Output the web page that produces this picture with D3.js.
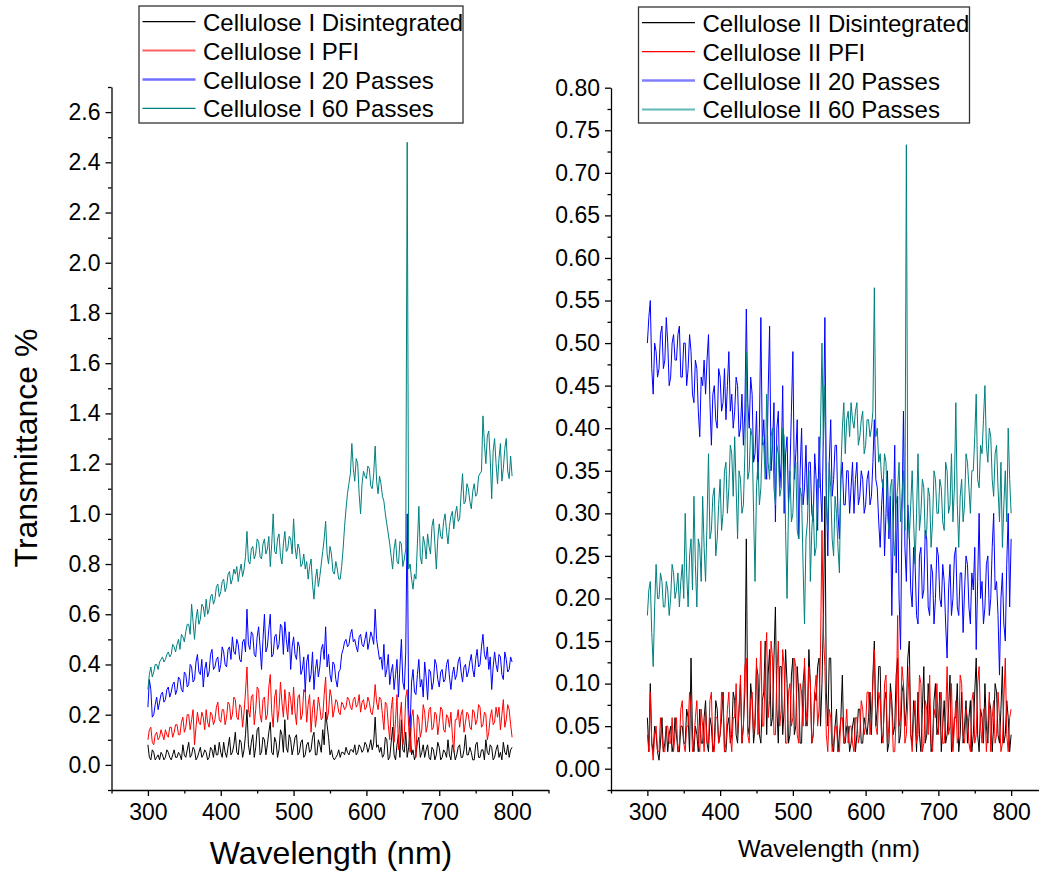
<!DOCTYPE html>
<html><head><meta charset="utf-8">
<script src="https://cdn.jsdelivr.net/npm/d3@7/dist/d3.min.js"></script>
<style>
html,body{margin:0;padding:0;background:#fff;}
svg{display:block;font-family:"Liberation Sans",Arial,sans-serif;}
</style></head><body>
<svg id="chart" width="1039" height="878"></svg>
<script>
// wavelength grid (nm), 2 nm sampling: 300..800
const wavelengths = d3.range(300, 801, 2);

// ---- Cellulose I (left panel) ----
const c1Disintegrated = [
0.08,0.03,0.02,0.06,0.05,0.02,0.03,0.04,0.02,0.05,0.04,0.02,0.03,0.06,0.05,0.03,0.02,0.04,0.06,0.03,
0.03,0.05,0.04,0.02,0.08,0.04,0.03,0.06,0.09,0.03,0.04,0.07,0.06,0.02,0.03,0.05,0.07,0.03,0.04,0.06,
0.05,0.02,0.03,0.07,0.06,0.03,0.08,0.04,0.04,0.09,0.05,0.03,0.09,0.05,0.03,0.07,0.11,0.04,0.05,0.08,
0.13,0.05,0.04,0.10,0.09,0.03,0.06,0.12,0.22,0.08,0.04,0.09,0.12,0.03,0.07,0.14,0.15,0.04,0.05,0.11,
0.10,0.04,0.08,0.13,0.17,0.05,0.04,0.11,0.09,0.03,0.06,0.14,0.12,0.05,0.18,0.07,0.05,0.12,0.10,0.04,
0.07,0.11,0.12,0.04,0.05,0.09,0.10,0.03,0.04,0.08,0.09,0.05,0.06,0.11,0.13,0.04,0.04,0.10,0.08,0.05,
0.14,0.08,0.21,0.16,0.11,0.04,0.06,0.03,0.02,0.03,0.04,0.06,0.03,0.05,0.05,0.04,0.07,0.05,0.04,0.06,
0.06,0.05,0.08,0.04,0.05,0.08,0.07,0.05,0.06,0.09,0.08,0.05,0.07,0.10,0.06,0.09,0.19,0.07,0.08,0.05,
0.07,0.03,0.04,0.11,0.10,0.02,0.03,0.09,0.15,0.04,0.02,0.08,0.12,0.03,0.18,0.06,0.05,0.13,0.03,0.07,
0.15,0.04,0.06,0.02,0.04,0.09,0.11,0.03,0.05,0.08,0.03,0.06,0.08,0.03,0.02,0.07,0.06,0.02,0.04,0.09,
0.07,0.02,0.03,0.06,0.05,0.03,0.10,0.04,0.02,0.08,0.06,0.02,0.04,0.07,0.08,0.03,0.03,0.06,0.12,0.04,
0.04,0.07,0.05,0.02,0.02,0.08,0.09,0.03,0.03,0.06,0.06,0.02,0.10,0.05,0.04,0.08,0.07,0.02,0.03,0.06,
0.08,0.03,0.05,0.02,0.09,0.05,0.04,0.08,0.03,0.06,0.07];
const c1PFI = [
0.10,0.14,0.15,0.09,0.08,0.12,0.13,0.10,0.11,0.14,0.12,0.10,0.14,0.12,0.11,0.15,0.15,0.11,0.13,0.16,
0.16,0.12,0.12,0.17,0.19,0.13,0.15,0.20,0.20,0.14,0.18,0.22,0.08,0.15,0.21,0.17,0.16,0.21,0.19,0.14,
0.22,0.17,0.15,0.21,0.20,0.16,0.18,0.23,0.25,0.18,0.17,0.22,0.22,0.16,0.19,0.25,0.24,0.18,0.20,0.27,
0.26,0.19,0.18,0.24,0.23,0.15,0.21,0.29,0.39,0.22,0.19,0.27,0.28,0.16,0.22,0.31,0.30,0.20,0.17,0.26,
0.27,0.18,0.20,0.31,0.36,0.21,0.15,0.27,0.30,0.17,0.22,0.33,0.25,0.19,0.30,0.23,0.18,0.29,0.26,0.20,
0.31,0.21,0.16,0.27,0.28,0.18,0.20,0.30,0.29,0.17,0.24,0.28,0.13,0.22,0.26,0.15,0.20,0.27,0.23,0.18,
0.19,0.28,0.35,0.18,0.21,0.30,0.27,0.19,0.22,0.26,0.25,0.21,0.20,0.25,0.24,0.22,0.23,0.27,0.26,0.23,
0.22,0.26,0.27,0.23,0.24,0.28,0.21,0.25,0.26,0.22,0.23,0.27,0.25,0.21,0.20,0.24,0.32,0.25,0.22,0.27,
0.26,0.20,0.14,0.25,0.24,0.16,0.10,0.22,0.27,0.09,0.18,0.28,0.06,0.19,0.25,0.08,0.12,0.27,0.30,0.15,
0.05,0.19,0.22,0.12,0.03,0.20,0.18,0.11,0.14,0.24,0.21,0.13,0.16,0.22,0.23,0.14,0.15,0.21,0.20,0.12,
0.17,0.23,0.22,0.14,0.13,0.20,0.19,0.15,0.21,0.12,0.05,0.18,0.18,0.22,0.15,0.20,0.22,0.13,0.17,0.21,
0.20,0.15,0.14,0.22,0.21,0.16,0.18,0.24,0.23,0.15,0.16,0.21,0.20,0.10,0.13,0.19,0.22,0.16,0.17,0.23,
0.19,0.23,0.14,0.20,0.26,0.15,0.18,0.24,0.22,0.16,0.11];
const c1Pass20 = [
0.23,0.34,0.30,0.19,0.20,0.24,0.27,0.22,0.25,0.28,0.29,0.25,0.26,0.30,0.31,0.27,0.29,0.32,0.33,0.28,
0.30,0.35,0.34,0.30,0.29,0.37,0.36,0.31,0.32,0.40,0.39,0.33,0.34,0.41,0.44,0.37,0.36,0.42,0.31,0.38,
0.41,0.35,0.37,0.44,0.46,0.38,0.39,0.42,0.43,0.37,0.40,0.47,0.45,0.40,0.39,0.46,0.47,0.42,0.51,0.45,
0.44,0.50,0.48,0.42,0.41,0.49,0.50,0.45,0.62,0.48,0.46,0.53,0.52,0.44,0.43,0.51,0.55,0.47,0.38,0.50,
0.60,0.45,0.47,0.54,0.60,0.43,0.44,0.51,0.52,0.46,0.48,0.56,0.55,0.44,0.57,0.50,0.45,0.53,0.38,0.47,
0.51,0.44,0.42,0.49,0.47,0.36,0.38,0.43,0.29,0.41,0.44,0.33,0.36,0.45,0.30,0.38,0.42,0.35,0.39,0.46,
0.48,0.42,0.55,0.39,0.44,0.36,0.33,0.41,0.40,0.34,0.31,0.37,0.38,0.44,0.46,0.49,0.50,0.47,0.48,0.52,
0.54,0.49,0.50,0.47,0.45,0.51,0.52,0.48,0.47,0.50,0.53,0.46,0.49,0.53,0.51,0.48,0.62,0.50,0.46,0.42,
0.43,0.38,0.48,0.35,0.38,0.44,0.32,0.37,0.40,0.30,0.36,0.42,0.27,0.39,0.50,0.33,0.30,0.45,1.00,0.22,
0.15,0.33,0.38,0.29,0.28,0.36,0.42,0.31,0.34,0.27,0.41,0.35,0.26,0.38,0.37,0.30,0.33,0.42,0.40,0.34,
0.31,0.37,0.38,0.33,0.34,0.40,0.42,0.35,0.30,0.36,0.39,0.34,0.36,0.41,0.43,0.37,0.33,0.39,0.40,0.35,
0.37,0.41,0.44,0.38,0.35,0.42,0.46,0.39,0.40,0.47,0.52,0.44,0.42,0.47,0.38,0.43,0.30,0.39,0.45,0.40,
0.37,0.44,0.43,0.36,0.34,0.45,0.42,0.37,0.38,0.43,0.41];
const c1Pass60 = [
0.30,0.36,0.39,0.35,0.37,0.40,0.40,0.38,0.41,0.42,0.43,0.41,0.42,0.44,0.45,0.43,0.44,0.48,0.47,0.45,
0.48,0.50,0.46,0.52,0.51,0.49,0.53,0.56,0.56,0.52,0.64,0.57,0.50,0.58,0.62,0.56,0.58,0.64,0.63,0.59,
0.66,0.60,0.62,0.67,0.68,0.64,0.66,0.71,0.72,0.67,0.69,0.73,0.74,0.69,0.71,0.76,0.77,0.72,0.74,0.78,
0.76,0.79,0.73,0.77,0.80,0.75,0.78,0.83,0.93,0.81,0.80,0.86,0.87,0.82,0.84,0.90,0.89,0.83,0.82,0.88,
0.90,0.84,0.86,0.91,0.79,0.88,1.00,0.85,0.84,0.90,0.92,0.83,0.80,0.88,0.93,0.85,0.86,0.91,0.90,0.84,
0.98,0.87,0.82,0.88,0.86,0.79,0.80,0.84,0.78,0.81,0.74,0.79,0.82,0.72,0.66,0.74,0.78,0.71,0.75,0.80,
0.85,0.90,0.97,0.84,0.80,0.87,0.84,0.77,0.76,0.81,0.78,0.74,0.74,0.79,0.86,0.95,1.02,1.08,1.12,1.16,
1.28,1.18,1.13,1.22,1.20,1.08,1.00,1.12,1.17,1.15,1.14,1.19,1.18,1.11,1.10,1.16,1.27,1.13,1.08,1.15,
1.12,1.07,1.05,1.00,0.96,0.92,0.88,0.83,0.78,0.86,0.90,0.81,0.80,0.89,0.88,0.79,0.82,0.86,2.48,0.78,
0.80,0.74,0.70,0.76,0.74,0.88,1.03,0.83,0.80,0.91,0.88,0.82,0.92,0.87,0.84,0.95,0.98,0.88,0.78,0.90,
0.96,0.91,0.90,0.97,1.00,0.93,0.88,0.95,0.99,1.01,0.94,1.00,1.03,0.97,0.98,1.08,1.16,1.04,1.05,1.12,
1.10,1.05,1.02,1.09,1.12,1.07,1.08,1.15,1.16,1.17,1.39,1.28,1.20,1.31,1.33,1.22,1.06,1.25,1.30,1.20,
1.12,1.22,1.28,1.13,1.18,1.26,1.30,1.17,1.14,1.23,1.15];

// ---- Cellulose II (right panel) ----
const c2Disintegrated = [
0.06,0.02,0.10,0.03,0.02,0.05,0.04,0.02,0.01,0.03,0.06,0.02,0.03,0.05,0.02,0.04,0.05,0.02,0.03,0.06,
0.04,0.02,0.02,0.05,0.05,0.03,0.03,0.07,0.06,0.02,0.13,0.04,0.02,0.05,0.04,0.02,0.07,0.03,0.03,0.06,
0.08,0.03,0.02,0.06,0.05,0.02,0.03,0.08,0.07,0.03,0.04,0.06,0.09,0.02,0.02,0.05,0.06,0.03,0.04,0.09,
0.08,0.04,0.03,0.07,0.10,0.03,0.05,0.09,0.27,0.05,0.04,0.10,0.08,0.03,0.05,0.12,0.11,0.04,0.03,0.08,
0.09,0.15,0.04,0.11,0.14,0.05,0.06,0.13,0.19,0.07,0.03,0.12,0.12,0.04,0.07,0.14,0.10,0.03,0.04,0.11,
0.13,0.04,0.05,0.12,0.09,0.03,0.03,0.10,0.12,0.05,0.06,0.14,0.10,0.03,0.04,0.09,0.08,0.12,0.13,0.05,
0.10,0.18,0.32,0.09,0.05,0.13,0.13,0.03,0.02,0.05,0.07,0.02,0.04,0.06,0.11,0.03,0.03,0.05,0.05,0.02,
0.03,0.05,0.06,0.02,0.04,0.07,0.07,0.03,0.03,0.06,0.05,0.04,0.06,0.09,0.04,0.11,0.15,0.05,0.07,0.12,
0.12,0.03,0.04,0.08,0.09,0.02,0.03,0.10,0.08,0.04,0.05,0.11,0.13,0.03,0.04,0.09,0.10,0.05,0.07,0.13,
0.15,0.04,0.03,0.08,0.06,0.02,0.09,0.04,0.02,0.07,0.12,0.03,0.04,0.10,0.07,0.02,0.03,0.08,0.10,0.04,
0.05,0.09,0.02,0.05,0.08,0.03,0.04,0.07,0.11,0.02,0.03,0.06,0.06,0.10,0.02,0.04,0.09,0.03,0.05,0.08,
0.03,0.06,0.08,0.02,0.04,0.09,0.13,0.04,0.02,0.07,0.06,0.03,0.10,0.05,0.03,0.08,0.07,0.02,0.05,0.10,
0.09,0.04,0.03,0.07,0.12,0.03,0.04,0.08,0.06,0.02,0.04];
const c2PFI = [
0.04,0.02,0.09,0.03,0.01,0.04,0.05,0.02,0.02,0.06,0.04,0.02,0.02,0.05,0.05,0.03,0.03,0.06,0.02,0.04,
0.06,0.02,0.03,0.07,0.08,0.03,0.02,0.05,0.05,0.09,0.07,0.02,0.03,0.06,0.08,0.03,0.02,0.07,0.05,0.02,
0.07,0.03,0.03,0.08,0.09,0.02,0.02,0.06,0.06,0.03,0.04,0.09,0.08,0.02,0.03,0.07,0.09,0.04,0.02,0.06,
0.06,0.10,0.04,0.07,0.11,0.03,0.05,0.12,0.13,0.04,0.03,0.08,0.09,0.04,0.06,0.13,0.04,0.09,0.15,0.05,
0.05,0.12,0.16,0.06,0.08,0.15,0.13,0.04,0.04,0.11,0.15,0.05,0.07,0.14,0.12,0.03,0.03,0.09,0.10,0.05,
0.06,0.13,0.12,0.04,0.03,0.10,0.09,0.05,0.13,0.07,0.05,0.12,0.10,0.03,0.04,0.09,0.11,0.05,0.07,0.14,
0.28,0.16,0.12,0.04,0.02,0.07,0.06,0.02,0.03,0.05,0.05,0.02,0.02,0.06,0.06,0.03,0.04,0.07,0.03,0.05,
0.05,0.03,0.02,0.06,0.06,0.03,0.04,0.08,0.07,0.04,0.05,0.09,0.09,0.04,0.06,0.10,0.14,0.05,0.04,0.09,
0.08,0.04,0.03,0.10,0.11,0.03,0.05,0.09,0.07,0.02,0.02,0.06,0.18,0.05,0.06,0.12,0.10,0.03,0.04,0.08,
0.12,0.04,0.02,0.06,0.08,0.03,0.04,0.11,0.10,0.02,0.03,0.08,0.07,0.04,0.11,0.03,0.02,0.07,0.06,0.10,
0.04,0.08,0.09,0.03,0.03,0.06,0.12,0.04,0.05,0.10,0.02,0.05,0.08,0.03,0.04,0.11,0.10,0.04,0.03,0.07,
0.06,0.03,0.02,0.08,0.09,0.03,0.04,0.10,0.12,0.05,0.03,0.07,0.07,0.02,0.05,0.09,0.02,0.06,0.08,0.03,
0.04,0.09,0.06,0.02,0.03,0.08,0.13,0.04,0.02,0.06,0.07];
const c2Pass20 = [
0.50,0.53,0.55,0.47,0.44,0.50,0.49,0.46,0.47,0.51,0.52,0.47,0.48,0.53,0.50,0.45,0.46,0.50,0.51,0.48,
0.48,0.51,0.52,0.46,0.46,0.50,0.50,0.45,0.47,0.51,0.49,0.44,0.43,0.48,0.47,0.42,0.39,0.46,0.45,0.48,
0.44,0.48,0.51,0.43,0.38,0.44,0.45,0.41,0.40,0.47,0.46,0.42,0.43,0.47,0.41,0.45,0.49,0.42,0.44,0.40,
0.42,0.46,0.45,0.39,0.40,0.44,0.38,0.42,0.54,0.43,0.40,0.46,0.44,0.36,0.37,0.42,0.34,0.40,0.53,0.38,
0.41,0.36,0.34,0.44,0.52,0.35,0.38,0.43,0.29,0.40,0.42,0.33,0.36,0.45,0.30,0.37,0.39,0.31,0.35,0.42,
0.49,0.34,0.37,0.41,0.27,0.35,0.40,0.31,0.33,0.38,0.31,0.36,0.36,0.30,0.29,0.37,0.34,0.28,0.39,0.33,
0.29,0.40,0.53,0.33,0.25,0.36,0.41,0.32,0.34,0.38,0.38,0.30,0.27,0.34,0.36,0.31,0.31,0.35,0.35,0.30,
0.33,0.36,0.30,0.34,0.36,0.31,0.32,0.35,0.34,0.30,0.31,0.34,0.35,0.31,0.32,0.36,0.41,0.34,0.33,0.29,
0.26,0.31,0.34,0.25,0.30,0.35,0.27,0.32,0.18,0.29,0.38,0.23,0.32,0.20,0.14,0.30,0.42,0.26,0.22,0.31,
0.28,0.21,0.19,0.26,0.24,0.18,0.17,0.25,0.26,0.20,0.21,0.28,0.27,0.19,0.18,0.24,0.23,0.17,0.20,0.26,
0.25,0.20,0.19,0.24,0.22,0.17,0.13,0.21,0.24,0.18,0.20,0.25,0.26,0.19,0.18,0.23,0.23,0.16,0.21,0.25,
0.24,0.19,0.17,0.23,0.21,0.26,0.14,0.22,0.30,0.20,0.22,0.17,0.19,0.24,0.25,0.18,0.20,0.26,0.30,0.21,
0.22,0.18,0.11,0.20,0.23,0.17,0.15,0.24,0.30,0.19,0.27];
const c2Pass60 = [
0.18,0.21,0.22,0.16,0.12,0.19,0.24,0.20,0.20,0.23,0.22,0.19,0.19,0.22,0.21,0.18,0.20,0.24,0.23,0.20,
0.21,0.23,0.19,0.22,0.24,0.20,0.30,0.23,0.19,0.25,0.27,0.21,0.32,0.24,0.19,0.27,0.26,0.22,0.32,0.26,
0.22,0.29,0.37,0.27,0.28,0.32,0.33,0.25,0.27,0.31,0.34,0.28,0.30,0.35,0.36,0.30,0.33,0.38,0.37,0.32,
0.39,0.33,0.27,0.35,0.34,0.30,0.31,0.37,0.49,0.34,0.35,0.40,0.39,0.30,0.22,0.33,0.36,0.31,0.33,0.39,
0.38,0.34,0.44,0.36,0.34,0.39,0.40,0.33,0.31,0.38,0.37,0.32,0.33,0.40,0.39,0.28,0.20,0.31,0.35,0.29,
0.30,0.35,0.36,0.28,0.27,0.33,0.32,0.24,0.17,0.27,0.29,0.35,0.22,0.28,0.31,0.25,0.26,0.34,0.33,0.40,
0.50,0.38,0.45,0.31,0.28,0.36,0.33,0.27,0.25,0.32,0.30,0.26,0.23,0.35,0.40,0.43,0.37,0.41,0.42,0.39,
0.43,0.41,0.40,0.42,0.43,0.38,0.39,0.41,0.42,0.37,0.38,0.41,0.41,0.39,0.40,0.42,0.565,0.39,0.40,0.36,
0.37,0.34,0.33,0.37,0.36,0.30,0.28,0.33,0.34,0.27,0.25,0.31,0.33,0.36,0.29,0.32,0.35,0.28,0.733,0.30,
0.27,0.31,0.35,0.29,0.24,0.30,0.37,0.28,0.30,0.34,0.33,0.27,0.28,0.33,0.32,0.26,0.29,0.35,0.34,0.30,
0.30,0.34,0.33,0.29,0.28,0.36,0.35,0.30,0.31,0.37,0.29,0.33,0.43,0.31,0.26,0.32,0.34,0.29,0.31,0.37,
0.36,0.33,0.30,0.35,0.35,0.39,0.44,0.34,0.33,0.38,0.37,0.41,0.45,0.38,0.36,0.40,0.39,0.34,0.32,0.37,
0.38,0.33,0.29,0.36,0.26,0.31,0.35,0.29,0.40,0.34,0.30];

const leftNames = ["Cellulose I Disintegrated","Cellulose I PFI","Cellulose I 20 Passes","Cellulose I 60 Passes"];
const rightNames = ["Cellulose II Disintegrated","Cellulose II PFI","Cellulose II 20 Passes","Cellulose II 60 Passes"];
const seriesColors = ["#000000","#ff0000","#0000ff","#008080"];
const legendSampleColors = ["#000000","#ff6060","#7070ff","#008080"];
const legendSampleColorsRight = ["#000000","#ff0000","#8080ff","#60b8b8"];

const xMajorTicks = [300,400,500,600,700,800];
const xMinorTicks = [250,350,450,550,650,750,850];
const leftYMajor = [0.0,0.2,0.4,0.6,0.8,1.0,1.2,1.4,1.6,1.8,2.0,2.2,2.4,2.6];
const leftYMinor = [-0.1,0.1,0.3,0.5,0.7,0.9,1.1,1.3,1.5,1.7,1.9,2.1,2.3,2.5,2.7];
const rightYMajor = [0.00,0.05,0.10,0.15,0.20,0.25,0.30,0.35,0.40,0.45,0.50,0.55,0.60,0.65,0.70,0.75,0.80];
const rightYMinor = [-0.025,0.025,0.075,0.125,0.175,0.225,0.275,0.325,0.375,0.425,0.475,0.525,0.575,0.625,0.675,0.725,0.775];

const svg = d3.select("#chart");
const FONT = '"Liberation Sans", Arial, sans-serif';

function drawPanel(cfg) {
  const x = d3.scaleLinear().domain([250, 850]).range(cfg.xRange);
  const y = d3.scaleLinear().domain(cfg.yDomain).range(cfg.yRange);
  const g = svg.append("g");

  const line = d3.line().x((d, i) => x(wavelengths[i])).y(d => y(d));
  cfg.series.forEach((s, k) => {
    g.append("path").datum(s)
      .attr("fill", "none")
      .attr("stroke", seriesColors[k])
      .attr("stroke-width", 1)
      .attr("stroke-linejoin", "round")
      .attr("d", line);
  });

  const x0 = cfg.xRange[0];
  const yBase = cfg.yRange[0];

  g.append("g").attr("transform", `translate(${x0},0)`)
    .call(d3.axisLeft(y).tickValues(cfg.yMinor).tickSize(3.5).tickSizeOuter(0).tickFormat(""))
    .call(a => a.select(".domain").remove())
    .selectAll("line").attr("stroke-width", 1.3);
  const ya = g.append("g").attr("transform", `translate(${x0},0)`)
    .call(d3.axisLeft(y).tickValues(cfg.yMajor).tickSize(6).tickSizeOuter(0).tickPadding(5).tickFormat(d3.format(cfg.yFmt)));
  ya.selectAll("line").attr("stroke-width", 1.3);
  ya.select(".domain").attr("stroke-width", 1.3);
  ya.selectAll("text").attr("font-size", 23).attr("font-family", FONT).attr("fill", "#000");

  g.append("g").attr("transform", `translate(0,${yBase})`)
    .call(d3.axisBottom(x).tickValues(xMinorTicks).tickSize(3.5).tickSizeOuter(0).tickFormat(""))
    .call(a => a.select(".domain").remove())
    .selectAll("line").attr("stroke-width", 1.3);
  const xa = g.append("g").attr("transform", `translate(0,${yBase})`)
    .call(d3.axisBottom(x).tickValues(xMajorTicks).tickSize(6).tickSizeOuter(0).tickPadding(8).tickFormat(d3.format("d")));
  xa.selectAll("line").attr("stroke-width", 1.3);
  xa.select(".domain").attr("stroke-width", 1.3);
  xa.selectAll("text").attr("font-size", 23).attr("font-family", FONT).attr("fill", "#000");

  g.append("text").attr("x", cfg.xTitle.x).attr("y", cfg.xTitle.y)
    .attr("text-anchor", "middle").attr("font-size", cfg.xTitle.size)
    .attr("font-family", FONT).text("Wavelength (nm)");

  const L = cfg.legend;
  g.append("rect").attr("x", L.x).attr("y", L.y).attr("width", L.w).attr("height", L.h)
    .attr("fill", "#fff").attr("stroke", "#333").attr("stroke-width", 1.3);
  cfg.names.forEach((name, k) => {
    const by = L.y + 24.7 + k * 28.9;
    g.append("line").attr("x1", L.x + 3.5).attr("x2", L.x + 56.5)
      .attr("y1", by - 9).attr("y2", by - 9)
      .attr("stroke", cfg.sampleColors[k]).attr("stroke-width", cfg.sampleWidths[k]);
    g.append("text").attr("x", L.x + 64).attr("y", by)
      .attr("font-size", 24).attr("font-family", FONT).text(name);
  });
}

drawPanel({
  xRange: [111.5, 548.5], yDomain: [-0.1, 2.7], yRange: [790, 87],
  yMajor: leftYMajor, yMinor: leftYMinor, yFmt: ".1f",
  series: [c1Disintegrated, c1PFI, c1Pass20, c1Pass60],
  names: leftNames, sampleColors: legendSampleColors, sampleWidths: [1.2, 2, 2.5, 1.2],
  legend: {x: 139, y: 6, w: 324, h: 117},
  xTitle: {x: 331, y: 864, size: 32}
});
drawPanel({
  xRange: [611, 1047.5], yDomain: [-0.025, 0.8], yRange: [790, 87.7],
  yMajor: rightYMajor, yMinor: rightYMinor, yFmt: ".2f",
  series: [c2Disintegrated, c2PFI, c2Pass20, c2Pass60],
  names: rightNames, sampleColors: legendSampleColorsRight, sampleWidths: [1.2, 1.2, 2.5, 2],
  legend: {x: 638.5, y: 7, w: 331, h: 116},
  xTitle: {x: 829, y: 857, size: 24}
});

svg.append("text").attr("transform", "translate(37,448) rotate(-90)")
  .attr("text-anchor", "middle").attr("font-size", 32).attr("font-family", FONT)
  .text("Transmittance %");
</script>
</body></html>
